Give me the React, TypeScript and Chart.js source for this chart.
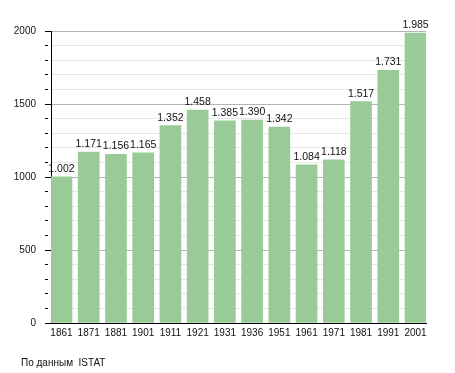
import React, { useEffect, useRef } from "react";
import { Chart, registerables } from "chart.js";

Chart.register(...registerables);

const years: string[] = ["1861", "1871", "1881", "1901", "1911", "1921", "1931", "1936", "1951", "1961", "1971", "1981", "1991", "2001"];
const population: number[] = [1002, 1171, 1156, 1165, 1352, 1458, 1385, 1390, 1342, 1084, 1118, 1517, 1731, 1985];
const yMajorStep = 500;
const sourceNote = "По данным  ISTAT";

const FONT = "'Liberation Sans', Arial, sans-serif";

function fmt(v: number): string {
  const th = Math.floor(v / 1000);
  const rest = String(v % 1000).padStart(3, "0");
  return th > 0 ? `${th}.${rest}` : String(v);
}

const valueLabels = {
  id: "valueLabels",
  afterDatasetsDraw(chart: any) {
    const ctx = chart.ctx;
    const meta = chart.getDatasetMeta(0);
    ctx.save();
    ctx.font = `10.5px ${FONT}`;
    ctx.fillStyle = "#111";
    ctx.textAlign = "center";
    ctx.textBaseline = "alphabetic";
    meta.data.forEach((bar: any, i: number) => {
      ctx.fillText(fmt(population[i]), bar.x, bar.y - 5);
    });
    ctx.restore();
  },
};

export default function App() {
  const ref = useRef<HTMLCanvasElement>(null);
  useEffect(() => {
    if (!ref.current) return;
    const chart = new Chart(ref.current, {
      type: "bar",
      data: {
        datasets: [
          {
            data: population.map((v, i) => ({ x: i, y: v })),
            backgroundColor: "#98CB98",
            borderWidth: 0,
            barThickness: 21,
          },
        ],
      },
      options: {
        responsive: false,
        animation: false,
        layout: { padding: { top: 31, right: 29, left: 0, bottom: 0 } },
        plugins: {
          legend: { display: false },
          tooltip: { enabled: false },
        },
        scales: {
          x: {
            type: "linear",
            offset: false,
            min: -0.385,
            max: years.length - 1 + 0.385,
            grid: { display: false, drawTicks: false, offset: false },
            border: { display: true, color: "#000", width: 1 },
            ticks: {
              stepSize: 1,
              autoSkip: false,
              includeBounds: false,
              maxRotation: 0,
              padding: 4,
              color: "#111",
              font: { family: FONT, size: 10 },
              callback: (v: any) => years[v] ?? "",
            },
            afterFit: (s: any) => {
              s.height = 50;
            },
          },
          y: {
            min: 0,
            max: 2000,
            grid: {
              color: (c: any) => (c.tick && c.tick.value % yMajorStep === 0 ? "#b4b4b4" : "#e6e6e6"),
              tickColor: "#000",
              tickLength: 6,
              tickBorderDash: (c: any) => (c.tick && c.tick.value % yMajorStep === 0 ? [] : [3, 20]),
            },
            border: { display: true, color: "#000", width: 1 },
            ticks: {
              stepSize: 100,
              autoSkip: false,
              padding: 9,
              color: "#111",
              font: { family: FONT, size: 10 },
              callback: (v: any) => (v % yMajorStep === 0 ? String(v) : ""),
            },
            afterFit: (s: any) => {
              s.width = 51;
            },
          },
        },
      },
      plugins: [valueLabels],
    });
    return () => chart.destroy();
  }, []);
  return (
    <div style={{ position: "absolute", left: 0, top: 0, width: 455, height: 373, background: "#fff" }}>
      <canvas ref={ref} width={455} height={373} style={{ position: "absolute", left: 0, top: 0 }} />
      <div
        style={{
          position: "absolute",
          left: 21,
          top: 357,
          fontFamily: FONT,
          fontSize: 10,
          color: "#111",
          whiteSpace: "pre",
        }}
      >
        {sourceNote}
      </div>
    </div>
  );
}
